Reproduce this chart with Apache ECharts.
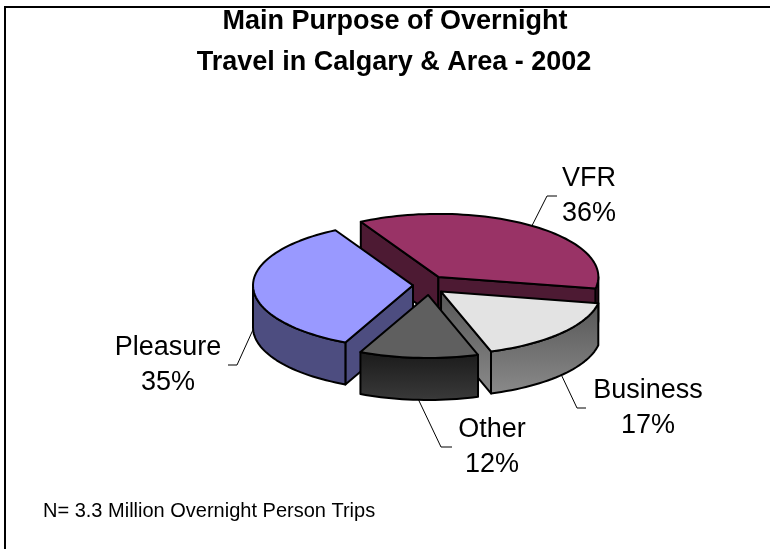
<!DOCTYPE html>
<html>
<head>
<meta charset="utf-8">
<script src="https://cdn.jsdelivr.net/npm/echarts@6/dist/echarts.min.js"></script>
<style>
  html, body { margin: 0; padding: 0; background: #fff; }
  #chart { width: 770px; height: 549px; }
</style>
</head>
<body>
<div id="chart"></div>
<script>
// data
const categories = ['VFR', 'Business', 'Other', 'Pleasure'];
const shares = [36, 17, 12, 35];
const titleLines = ['Main Purpose of Overnight', 'Travel in Calgary & Area - 2002'];
const footnote = 'N= 3.3 Million Overnight Person Trips';

// look
const topColors = ['#993366', '#e3e3e3', '#5f5f5f', '#9999ff'];
const sideColors = [
  '#4d1a33',
  ['#565656', '#8a8a8a'],
  ['#1a1a1a', '#3a3a3a'],
  '#4d4d80'
];
const FONT = '"Liberation Sans", Arial, sans-serif';

// 3d pie geometry
const CX = 429, CY = 285, RX = 160, RY = 63, DEPTH = 42;
const EXPLODE_X = 16, EXPLODE_Y = 10;
const START_ANGLE = -29; // degrees, clockwise from 12 o'clock

// label layout: elbow of leader line, end of the short horizontal, text centre x
const labelElbow = [[547, 196], [577, 408], [441, 447], [237, 365]];
const labelLineEnd = [557, 586, 452, 228];
const labelCenterX = [589, 648, 492, 168];

const total = shares.reduce((s, v) => s + v, 0);
const slices = [];
let acc = START_ANGLE;
shares.forEach((v, i) => {
  const a = acc, b = acc + v / total * 360;
  const mid = (a + b) / 2;
  const mr = mid * Math.PI / 180;
  slices.push({
    a, b, mid,
    cx: CX + EXPLODE_X * Math.sin(mr),
    cy: CY - EXPLODE_Y * Math.cos(mr),
    depth: -Math.cos(mr)
  });
  acc = b;
});
const order = slices.map((s, i) => i).sort((p, q) => slices[p].depth - slices[q].depth);
slices.forEach((s, i) => { s.rank = order.indexOf(i); });

function pt(cx, cy, deg, dy) {
  const r = deg * Math.PI / 180;
  return [cx + RX * Math.sin(r), cy - RY * Math.cos(r) + (dy || 0)];
}
function arc(cx, cy, from, to, dy) {
  const n = Math.max(2, Math.ceil(Math.abs(to - from) / 2));
  const out = [];
  for (let k = 0; k <= n; k++) out.push(pt(cx, cy, from + (to - from) * k / n, dy));
  return out;
}
function sideFill(i) {
  const c = sideColors[i];
  if (typeof c === 'string') return c;
  return new echarts.graphic.LinearGradient(0, 0, 0, 1, [
    { offset: 0, color: c[0] }, { offset: 1, color: c[1] }
  ]);
}

const edge = { stroke: '#000', lineWidth: 2, lineJoin: 'round' };

function renderItem(params, api) {
  const i = params.dataIndex;
  const s = slices[i];
  const z = s.rank * 10;
  const children = [];
  const fill = sideFill(i);

  // radial walls
  if (Math.sin(s.a * Math.PI / 180) < 0) {
    const r = pt(s.cx, s.cy, s.a);
    children.push({
      type: 'polygon', z2: z + 1,
      shape: { points: [[s.cx, s.cy], r, [r[0], r[1] + DEPTH], [s.cx, s.cy + DEPTH]] },
      style: Object.assign({ fill }, edge)
    });
  }
  if (Math.sin(s.b * Math.PI / 180) > 0) {
    const r = pt(s.cx, s.cy, s.b);
    children.push({
      type: 'polygon', z2: z + 1,
      shape: { points: [[s.cx, s.cy], r, [r[0], r[1] + DEPTH], [s.cx, s.cy + DEPTH]] },
      style: Object.assign({ fill }, edge)
    });
  }
  // outer wall (front half only)
  const lo = Math.max(s.a, 90), hi = Math.min(s.b, 270);
  if (hi > lo) {
    children.push({
      type: 'polygon', z2: z + 2,
      shape: { points: arc(s.cx, s.cy, lo, hi, 0).concat(arc(s.cx, s.cy, hi, lo, DEPTH)) },
      style: Object.assign({ fill }, edge)
    });
  }
  // top face
  children.push({
    type: 'polygon', z2: z + 3,
    shape: { points: [[s.cx, s.cy]].concat(arc(s.cx, s.cy, s.a, s.b, 0)) },
    style: Object.assign({ fill: topColors[i] }, edge)
  });

  // leader line + label
  const front = s.mid > 90 && s.mid < 270;
  const start = pt(s.cx, s.cy, s.mid, front ? DEPTH : 0);
  const elbow = labelElbow[i];
  children.push({
    type: 'polyline', z2: 100,
    shape: { points: [start, elbow, [labelLineEnd[i], elbow[1]]] },
    style: { stroke: '#000', lineWidth: 1, fill: null }
  });
  children.push({
    type: 'text', z2: 100,
    style: {
      text: categories[i] + '\n' + api.value(0) + '%',
      x: labelCenterX[i], y: elbow[1],
      align: 'center', verticalAlign: 'middle',
      fontSize: 27, lineHeight: 35, fontFamily: FONT, fill: '#000'
    }
  });
  return { type: 'group', children };
}

const chart = echarts.init(document.getElementById('chart'), null, { renderer: 'canvas' });
chart.setOption({
  animation: false,
  backgroundColor: '#fff',
  graphic: [
    {
      type: 'rect', shape: { x: 5, y: 7, width: 800, height: 600 },
      style: { fill: null, stroke: '#000', lineWidth: 2 }, silent: true
    },
    {
      type: 'text', x: 395, y: 22,
      style: { text: titleLines[0], align: 'center', verticalAlign: 'middle', fontSize: 27, fontWeight: 'bold', fontFamily: FONT, fill: '#000' }
    },
    {
      type: 'text', x: 394, y: 63,
      style: { text: titleLines[1], align: 'center', verticalAlign: 'middle', fontSize: 27, fontWeight: 'bold', fontFamily: FONT, fill: '#000' }
    },
    {
      type: 'text', x: 43, y: 511,
      style: { text: footnote, align: 'left', verticalAlign: 'middle', fontSize: 20, fontFamily: FONT, fill: '#000' }
    }
  ],
  series: [{
    type: 'custom',
    coordinateSystem: 'none',
    data: shares.map(v => [v]),
    renderItem
  }]
});
</script>
</body>
</html>
